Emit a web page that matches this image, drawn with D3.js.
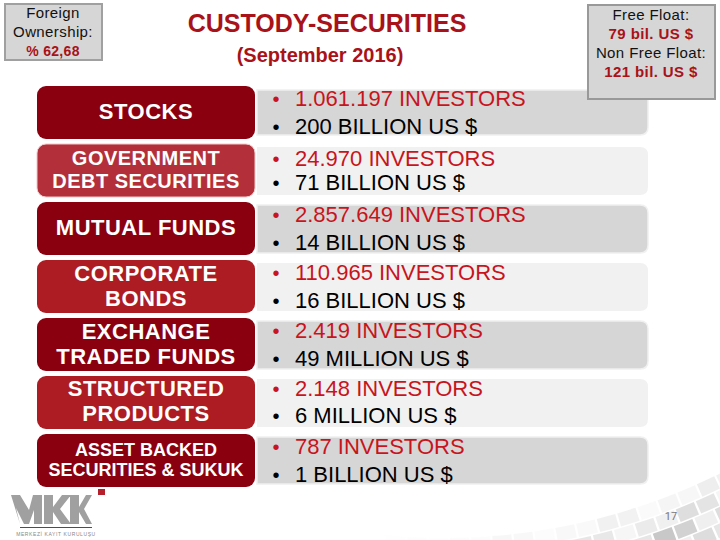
<!DOCTYPE html>
<html>
<head>
<meta charset="utf-8">
<script src="https://cdnjs.cloudflare.com/ajax/libs/d3/7.9.0/d3.min.js"></script>
<style>
html,body{margin:0;padding:0;background:#fff;}
svg{display:block;font-family:"Liberation Sans",Arial,sans-serif;}
</style>
</head>
<body>
<svg id="c" width="720" height="540" viewBox="0 0 720 540"></svg>
<script>
// ---------- data ----------
const categories = ["STOCKS","GOVERNMENT DEBT SECURITIES","MUTUAL FUNDS","CORPORATE BONDS","EXCHANGE TRADED FUNDS","STRUCTURED PRODUCTS","ASSET BACKED SECURITIES & SUKUK"];
const labelLines = [["STOCKS"],["GOVERNMENT","DEBT SECURITIES"],["MUTUAL FUNDS"],["CORPORATE","BONDS"],["EXCHANGE","TRADED FUNDS"],["STRUCTURED","PRODUCTS"],["ASSET BACKED","SECURITIES & SUKUK"]];
const investors = ["1.061.197 INVESTORS","24.970 INVESTORS","2.857.649 INVESTORS","110.965 INVESTORS","2.419 INVESTORS","2.148 INVESTORS","787 INVESTORS"];
const holdings = ["200 BILLION US $","71 BILLION US $","14 BILLION US $","16 BILLION US $","49 MILLION US $","6 MILLION US $","1 BILLION US $"];
const foreignLines = ["Foreign","Ownership:","% 62,68"];
const floatLines = ["Free Float:","79 bil. US $","Non Free Float:","121 bil. US $"];

// ---------- style ----------
const RED="#c8141c", TITLE="#a81218", DARK="#8a000f", MID="#ad1c22", GOV="#b3303a";
const labelSize = [22,20,22,22,22,22,18];
const labelShift = [-1,-1,-1,-1,-1,-2,-1];
const labelFill = i => i===1 ? GOV : (i%2===0 ? DARK : MID);
const barFill = i => i%2===0 ? "#d6d6d6" : "#f1f1f1";

const svg = d3.select("#c");
const y = d3.scaleBand().domain(categories).range([86,487]).paddingInner(5/58).paddingOuter(0).align(0);
const x = d3.scaleLinear().domain([0,1]).range([37,255]);
const barX = d3.scaleLinear().domain([0,1]).range([257,648]);

// ---------- decorative mosaic, bottom right ----------
const cx=444, cy=-85, R0=623;
const mosaic = svg.append("g").attr("transform",`translate(${cx},${cy})`);
const arc = d3.arc();
const shade = ["#e6e6e6","#d2d2d2","#dddddd","#c8c8c8","#efefef"];
d3.range(0,7).forEach(row=>{
  d3.range(0,20).forEach(col=>{
    const a0=(146.5+col*1.95+row*0.7)*Math.PI/180, a1=a0+1.75*Math.PI/180;
    const r0=R0+row*15, fade=Math.min(1,(20-col)/13)*(row===0?0.3:row===1?0.6:1);
    mosaic.append("path")
      .attr("d",arc({innerRadius:r0,outerRadius:r0+13.5,startAngle:a0,endAngle:a1}))
      .attr("fill",shade[(row*3+col*2)%5]).attr("opacity",fade);
  });
});
svg.append("text").attr("x",671).attr("y",520).attr("text-anchor","middle")
  .attr("font-family","Roboto, sans-serif").attr("font-size",11).attr("fill","#777").text("17");

// ---------- right-hand bars ----------
const barPath = (x0,x1,t,b,r)=>{
  const p=d3.path();
  p.moveTo(x0,t); p.lineTo(x1-r,t); p.quadraticCurveTo(x1,t,x1,t+r);
  p.lineTo(x1,b-r); p.quadraticCurveTo(x1,b,x1-r,b); p.lineTo(x0,b); p.closePath();
  return p.toString();
};
svg.append("g").selectAll("path").data(categories).join("path")
  .attr("d",(d,i)=>barPath(barX(0),barX(1),y(d)+(i===0?4:3),y(d)+y.bandwidth()-(i===0?4:i===6?3:2),8))
  .attr("fill",(d,i)=>barFill(i))
  .attr("stroke","#f0f0f0").attr("stroke-width",(d,i)=>i%2===0?1.5:0);

// ---------- left-hand labels ----------
svg.append("g").selectAll("rect").data(categories).join("rect")
  .attr("x",x(0)).attr("y",d=>y(d)).attr("width",x(1)-x(0)).attr("height",y.bandwidth())
  .attr("rx",9).attr("fill",(d,i)=>labelFill(i))
  .attr("stroke",(d,i)=>i===1?"#f3c9cb":"none").attr("stroke-width",1);

categories.forEach((c,i)=>{
  const mid=y(c)+y.bandwidth()/2, lines=labelLines[i], fs=labelSize[i];
  const gap = lines.length>1 ? (i===6?20:i===1?23:25) : 0;
  lines.forEach((t,k)=>{
    svg.append("text").attr("x",(x(0)+x(1))/2)
      .attr("y",mid+labelShift[i]+(k-(lines.length-1)/2)*gap).attr("dy","0.35em")
      .attr("text-anchor","middle").attr("font-weight","bold").attr("font-size",fs)
      .attr("letter-spacing",i===6?0:0.5).attr("fill","#fff").text(t);
  });
  const off = i===1?12:14;
  [[investors[i],RED,-off],[holdings[i],"#000",off-(i===5?1:0)]].forEach(([t,col,dy])=>{
    svg.append("text").attr("x",276).attr("y",mid+dy).attr("dy","0.35em")
      .attr("text-anchor","middle").attr("font-size",20).attr("fill",col).text("\u2022");
    svg.append("text").attr("x",295).attr("y",mid+dy).attr("dy","0.35em")
      .attr("font-size",22).attr("fill",col).text(t);
  });
});

// ---------- titles ----------
svg.append("text").attr("x",327).attr("y",32).attr("text-anchor","middle")
  .attr("font-weight","bold").attr("font-size",25).attr("fill",TITLE).text("CUSTODY-SECURITIES");
svg.append("text").attr("x",320).attr("y",62).attr("text-anchor","middle")
  .attr("font-weight","bold").attr("font-size",20).attr("fill",TITLE).text("(September 2016)");

// ---------- info boxes ----------
svg.append("rect").attr("x",5).attr("y",4).attr("width",97).attr("height",56)
  .attr("fill","#d6d6d6").attr("stroke","#a0a0a0").attr("stroke-width",2);
foreignLines.forEach((t,i)=>{
  const red=i===2;
  svg.append("text").attr("x",53).attr("y",18+i*19).attr("text-anchor","middle")
    .attr("font-size",red?14:15).attr("font-weight",red?"bold":"normal")
    .attr("letter-spacing",red?0.3:0.4).attr("fill",red?TITLE:"#111").text(t);
});
svg.append("rect").attr("x",588).attr("y",5).attr("width",127).attr("height",94)
  .attr("fill","#d6d6d6").attr("stroke","#999").attr("stroke-width",2);
floatLines.forEach((t,i)=>{
  const red=i%2===1;
  svg.append("text").attr("x",651).attr("y",20+i*19).attr("text-anchor","middle")
    .attr("font-size",15).attr("font-weight",red?"bold":"normal")
    .attr("letter-spacing",0.4).attr("fill",red?TITLE:"#111").text(t);
});

// ---------- logo ----------
const logo=svg.append("g");
logo.append("rect").attr("x",98).attr("y",489).attr("width",7).attr("height",6).attr("fill","#b5202c");
logo.append("path").attr("fill","#a0a0a0").attr("d",
 "M11 495 L20 495 L29 510 L33 495 L42 495 L42 524 L34 524 L34 510 L29 524 L24 524 L16 508 L20 524 Z"+
 "M44 495 L53 495 L53 507 L62 495 L71 495 L60 509 L71 524 L61 524 L53 512 L53 524 L44 524 Z"+
 "M70 495 L79 495 L79 507 L86 495 L92 495 L84 509 L92 524 L86 524 L79 512 L79 524 L70 524 Z");
logo.append("rect").attr("x",20).attr("y",527).attr("width",72).attr("height",1).attr("fill","#b5202c");
logo.append("text").attr("x",56).attr("y",536).attr("text-anchor","middle")
  .attr("font-size",5).attr("letter-spacing",0.6).attr("fill","#888").text("MERKEZİ KAYIT KURULUŞU");
</script>
</body>
</html>
